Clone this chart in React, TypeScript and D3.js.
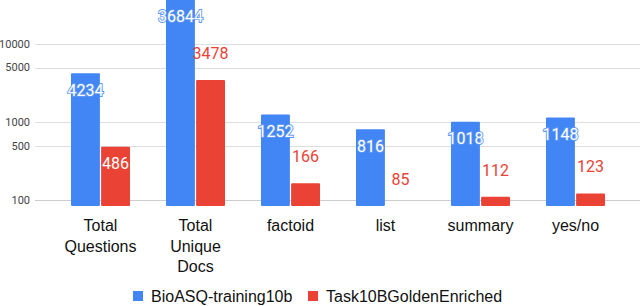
import * as d3 from "d3";
import { useEffect, useRef } from "react";

const categories = ["Total Questions", "Total Unique Docs", "factoid", "list", "summary", "yes/no"];
const categoryLines = [["Total", "Questions"], ["Total", "Unique", "Docs"], ["factoid"], ["list"], ["summary"], ["yes/no"]];
const seriesNames = ["BioASQ-training10b", "Task10BGoldenEnriched"];
const trainingValues = [4234, 36844, 1252, 816, 1018, 1148];
const goldenValues = [486, 3478, 166, 85, 112, 123];
const yTicks = [100, 500, 1000, 5000, 10000];
// red labels drawn inside the bar (others sit above it)
const goldenInside = ["Total Questions"];

const colors = ["#4285F4", "#EA4335"];

export default function App() {
  const svgRef = useRef<SVGSVGElement>(null);

  useEffect(() => {
    if (!svgRef.current) return;
    const svg = d3.select(svgRef.current);
    svg.selectAll("*").remove();

    const width = 640;
    const margin = { left: 53, right: 17 };
    const baseline = 206;

    const rows = categories.map((c, i) => ({
      category: c,
      values: [trainingValues[i], goldenValues[i]],
    }));

    const minVal = d3.min(goldenValues) || 85;

    const x0 = d3
      .scaleBand()
      .domain(categories)
      .range([margin.left, width - margin.right]);

    const x1 = d3
      .scaleBand()
      .domain(seriesNames)
      .range([18, x0.bandwidth() - 18])
      .paddingInner(0.04);

    const y = d3.scaleLog().domain([minVal, 10000]).range([baseline, 44]);

    // gridlines
    svg
      .append("g")
      .selectAll("line")
      .data(yTicks)
      .enter()
      .append("line")
      .attr("x1", 35)
      .attr("x2", width)
      .attr("y1", (d) => Math.round(y(d)) + 0.5)
      .attr("y2", (d) => Math.round(y(d)) + 0.5)
      .attr("stroke", (d) => (d === 100 ? "#cccccc" : "#dedede"))
      .attr("stroke-width", 1);

    // y tick labels
    svg
      .append("g")
      .selectAll("text")
      .data(yTicks)
      .enter()
      .append("text")
      .attr("x", 30)
      .attr("y", (d) => y(d))
      .attr("dy", "0.35em")
      .attr("text-anchor", "end")
      .style("font-family", "Roboto, Arial, sans-serif")
      .style("font-size", "11px")
      .style("fill", "#444")
      .text((d) => String(d));

    // bars
    const groups = svg
      .append("g")
      .selectAll("g")
      .data(rows)
      .enter()
      .append("g")
      .attr("transform", (d) => `translate(${x0(d.category)},0)`);

    groups
      .selectAll("rect")
      .data((d) => d.values.map((v, i) => ({ v, i, category: d.category })))
      .enter()
      .append("rect")
      .attr("x", (d) => x1(seriesNames[d.i]) || 0)
      .attr("y", (d) => y(d.v))
      .attr("width", x1.bandwidth())
      .attr("height", (d) => baseline - y(d.v))
      .attr("rx", 1)
      .attr("fill", (d) => colors[d.i]);

    // value labels
    groups
      .selectAll("text.val")
      .data((d) => d.values.map((v, i) => ({ v, i, category: d.category })))
      .enter()
      .append("text")
      .attr("class", "val")
      .attr("x", (d) => (x1(seriesNames[d.i]) || 0) + x1.bandwidth() / 2)
      .attr("y", (d) => {
        const inside = d.i === 0 || goldenInside.includes(d.category);
        return inside ? y(d.v) + 22.5 : y(d.v) - 21;
      })
      .attr("text-anchor", "middle")
      .style("font-family", "Roboto, Arial, sans-serif")
      .style("font-size", "16px")
      .style("paint-order", "stroke")
      .each(function (d) {
        const inside = d.i === 0 || goldenInside.includes(d.category);
        const t = d3.select(this);
        if (inside) {
          t.style("fill", "#ffffff")
            .style("stroke", d.i === 0 ? "#5e97f6" : colors[1])
            .style("stroke-width", "1.8px");
        } else {
          t.style("fill", colors[d.i]);
        }
      })
      .text((d) => String(d.v));

    // category labels
    const catLabels = svg
      .append("g")
      .selectAll("text")
      .data(categories)
      .enter()
      .append("text")
      .attr("x", (d) => (x0(d) || 0) + x0.bandwidth() / 2)
      .attr("y", 231)
      .attr("text-anchor", "middle")
      .style("font-family", "'Liberation Sans', Arial, sans-serif")
      .style("font-size", "16px")
      .style("fill", "#111");

    catLabels
      .selectAll("tspan")
      .data((d, i) => categoryLines[i].map((line) => ({ line, x: (x0(d) || 0) + x0.bandwidth() / 2 })))
      .enter()
      .append("tspan")
      .attr("x", (d) => d.x)
      .attr("dy", (_, j) => (j === 0 ? 0 : 20.5))
      .text((d) => d.line);

    // legend
    const legendX = [133, 308];
    const legend = svg
      .append("g")
      .selectAll("g")
      .data(seriesNames)
      .enter()
      .append("g")
      .attr("transform", (_, i) => `translate(${legendX[i]},296)`);

    legend
      .append("rect")
      .attr("x", 0)
      .attr("y", -5)
      .attr("width", 10)
      .attr("height", 10)
      .attr("fill", (_, i) => colors[i]);

    legend
      .append("text")
      .attr("x", 18)
      .attr("y", 0)
      .attr("dy", "0.36em")
      .style("font-family", "'Liberation Sans', Arial, sans-serif")
      .style("font-size", "16px")
      .style("fill", "#111")
      .text((d) => d);
  }, []);

  return (
    <svg
      ref={svgRef}
      width={640}
      height={306}
      style={{ position: "absolute", left: 0, top: 0, background: "#fff" }}
    />
  );
}
